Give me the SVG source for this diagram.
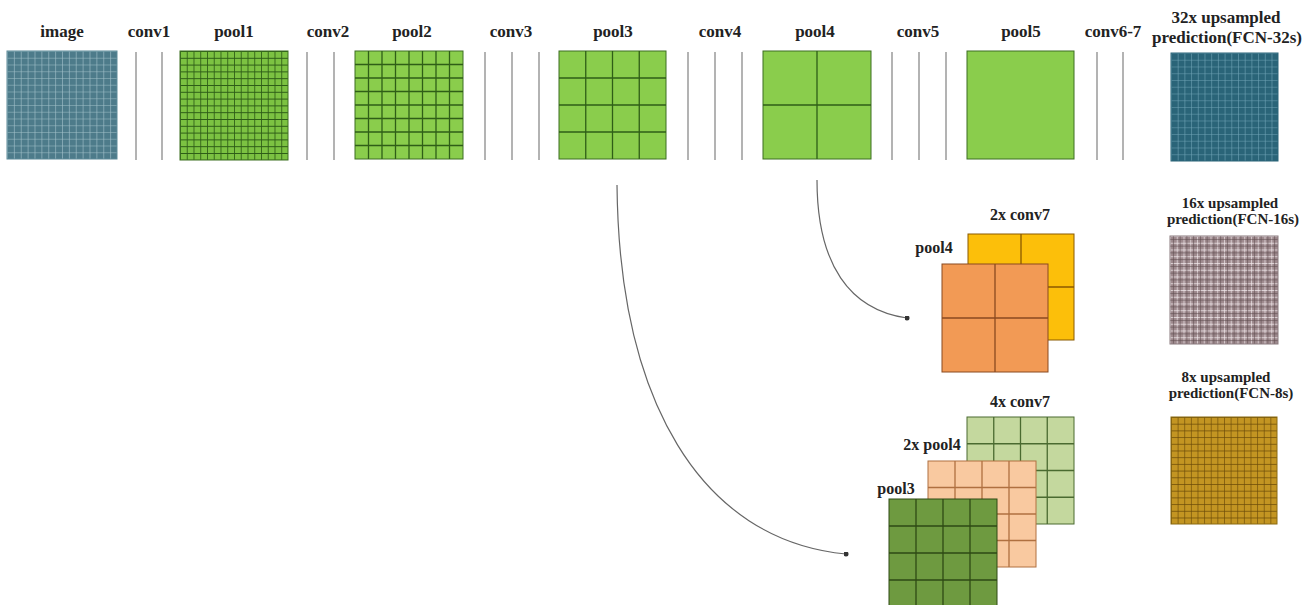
<svg xmlns="http://www.w3.org/2000/svg" width="1306" height="605" viewBox="0 0 1306 605">
<style>
text{font-family:"Liberation Serif","Times New Roman",serif;font-weight:bold;fill:#222;text-anchor:middle}
.t17{font-size:17px}
.t16{font-size:16px}
.t15{font-size:15px}
.conv{stroke:#9a9a9a;stroke-width:1.5}
.edge{fill:none;stroke:#666;stroke-width:1.2}
</style>
<defs>
<pattern id="pImg" x="7" y="51" width="6.875" height="6.75" patternUnits="userSpaceOnUse"><rect width="6.875" height="6.75" fill="#4d7b8a"/><path d="M0,0H6.875M0,0V6.75" stroke="#a3c2cb" stroke-width="1.2"/></pattern>
<pattern id="pP1" x="180" y="51" width="6.75" height="6.8" patternUnits="userSpaceOnUse"><rect width="6.75" height="6.8" fill="#7cc242"/><path d="M0,0H6.75M0,0V6.8" stroke="#2d5c17" stroke-width="1.7"/></pattern>
<pattern id="p32" x="1171" y="53" width="6.7" height="6.75" patternUnits="userSpaceOnUse"><rect width="6.7" height="6.75" fill="#2a6478"/><path d="M0,0H6.7M0,0V6.75" stroke="#6fa3b5" stroke-width="1.2"/></pattern>
<pattern id="p16" x="1170" y="236" width="6.75" height="6.75" patternUnits="userSpaceOnUse"><rect width="6.75" height="6.75" fill="#a08c90"/><path d="M0,0H6.75M0,0V6.75" stroke="#f2eaec" stroke-width="1.3"/><path d="M0,3.4H6.75M3.4,0V6.75" stroke="#5e4a4e" stroke-width="0.6"/></pattern>
<pattern id="p8" x="1171" y="417" width="6.625" height="6.7" patternUnits="userSpaceOnUse"><rect width="6.625" height="6.7" fill="#c39522"/><path d="M0,0H6.625M0,0V6.7" stroke="#6a4a08" stroke-width="1.3"/></pattern>
<marker id="dot" viewBox="0 0 6 6" refX="3" refY="3" markerWidth="5" markerHeight="5" markerUnits="userSpaceOnUse"><circle cx="3" cy="3" r="3" fill="#333"/></marker>
</defs>
<rect width="1306" height="605" fill="#fff"/>

<g id="labels-top">
<text class="t17" x="62" y="37">image</text>
<text class="t17" x="149" y="37">conv1</text>
<text class="t17" x="234" y="37">pool1</text>
<text class="t17" x="328" y="37">conv2</text>
<text class="t17" x="412" y="37">pool2</text>
<text class="t17" x="511" y="37">conv3</text>
<text class="t17" x="613" y="37">pool3</text>
<text class="t17" x="720" y="37">conv4</text>
<text class="t17" x="815" y="37">pool4</text>
<text class="t17" x="918" y="37">conv5</text>
<text class="t17" x="1021" y="37">pool5</text>
<text class="t17" x="1113" y="37">conv6-7</text>
</g>

<g id="image"><rect x="7" y="51" width="110" height="108" fill="url(#pImg)" stroke="#5d8a98" stroke-width="1"/></g>
<g id="conv1"><path class="conv" d="M136,52V160M162,52V160"/></g>
<g id="pool1"><rect x="180" y="51" width="108" height="109" fill="url(#pP1)" stroke="#3d7020" stroke-width="1"/></g>
<g id="conv2"><path class="conv" d="M307,52V160M334,52V160"/></g>
<g id="pool2"><rect x="355" y="51" width="108" height="108" fill="#8acd4c" stroke="#3d6e22" stroke-width="1"/>
<path d="M368.5,51V159M382,51V159M395.5,51V159M409,51V159M422.5,51V159M436,51V159M449.5,51V159M355,64.5H463M355,78H463M355,91.5H463M355,105H463M355,118.5H463M355,132H463M355,145.5H463" stroke="#2f5e17" stroke-width="1.3"/></g>
<g id="conv3"><path class="conv" d="M485,52V160M512,52V160M539,52V160"/></g>
<g id="pool3"><rect x="559" y="51" width="107" height="108" fill="#8acd4c" stroke="#3d6e22" stroke-width="1"/>
<path d="M585.75,51V159M612.5,51V159M639.25,51V159M559,78H666M559,105H666M559,132H666" stroke="#2f5e17" stroke-width="1.3"/></g>
<g id="conv4"><path class="conv" d="M688,52V160M715,52V160M742,52V160"/></g>
<g id="pool4"><rect x="763" y="51" width="108" height="108" fill="#8acd4c" stroke="#3d6e22" stroke-width="1"/>
<path d="M817,51V159M763,105H871" stroke="#2f5e17" stroke-width="1.3"/></g>
<g id="conv5"><path class="conv" d="M892,52V160M919,52V160M946,52V160"/></g>
<g id="pool5"><rect x="967" y="51" width="107" height="108" fill="#8acd4c" stroke="#3d6e22" stroke-width="1"/></g>
<g id="conv6-7"><path class="conv" d="M1097,52V160M1123,52V160"/></g>

<g id="fcn32">
<text class="t17" x="1226" y="23">32x upsampled</text>
<text class="t17" x="1227" y="43">prediction(FCN-32s)</text>
<rect x="1171" y="53" width="107" height="108" fill="url(#p32)" stroke="#2a6478" stroke-width="1"/>
</g>
<g id="fcn16">
<text class="t15" x="1230" y="208">16x upsampled</text>
<text class="t15" x="1233" y="224">prediction(FCN-16s)</text>
<rect x="1170" y="236" width="108" height="108" fill="url(#p16)" stroke="#8a7a7e" stroke-width="1"/>
</g>
<g id="fcn8">
<text class="t15" x="1226" y="382">8x upsampled</text>
<text class="t15" x="1231" y="398">prediction(FCN-8s)</text>
<rect x="1171" y="417" width="106" height="107" fill="url(#p8)" stroke="#8a6a10" stroke-width="1"/>
</g>

<g id="conv7x2">
<text class="t16" x="1020" y="220">2x conv7</text>
<rect x="968" y="234" width="106" height="106" fill="#fcbf0a" stroke="#8a5a00" stroke-width="1"/>
<path d="M1021,234V340M968,287H1074" stroke="#8a5a00" stroke-width="1.3"/>
</g>
<g id="pool4-b">
<text class="t16" x="934" y="253">pool4</text>
<rect x="942" y="264" width="106" height="108" fill="#f29a55" stroke="#8a4a20" stroke-width="1"/>
<path d="M995,264V372M942,318H1048" stroke="#8a4a20" stroke-width="1.3"/>
</g>
<g id="conv7x4">
<text class="t16" x="1020" y="407">4x conv7</text>
<rect x="967" y="417" width="107" height="107" fill="#c4d89e" stroke="#4a6a30" stroke-width="1"/>
<path d="M993.75,417V524M1020.5,417V524M1047.25,417V524M967,443.75H1074M967,470.5H1074M967,497.25H1074" stroke="#4a6a30" stroke-width="1.3"/>
</g>
<g id="pool4x2">
<text class="t16" x="932" y="450">2x pool4</text>
<rect x="928" y="461" width="108" height="106" fill="#f9c9a0" stroke="#b07040" stroke-width="1"/>
<path d="M955,461V567M982,461V567M1009,461V567M928,487.5H1036M928,514H1036M928,540.5H1036" stroke="#b07040" stroke-width="1.3"/>
</g>
<g id="pool3-b">
<text class="t16" x="896" y="494">pool3</text>
<rect x="889" y="499" width="108" height="108" fill="#6e9a40" stroke="#2e4a14" stroke-width="1"/>
<path d="M916,499V607M943,499V607M970,499V607M889,526H997M889,553H997M889,580H997" stroke="#2e4a14" stroke-width="1.3"/>
</g>

<g id="connectors">
<path class="edge" d="M617,185C619,400 700,540 846,554" marker-end="url(#dot)"/>
<path class="edge" d="M817,180C817,265 850,310 907,318" marker-end="url(#dot)"/>
</g>
</svg>
